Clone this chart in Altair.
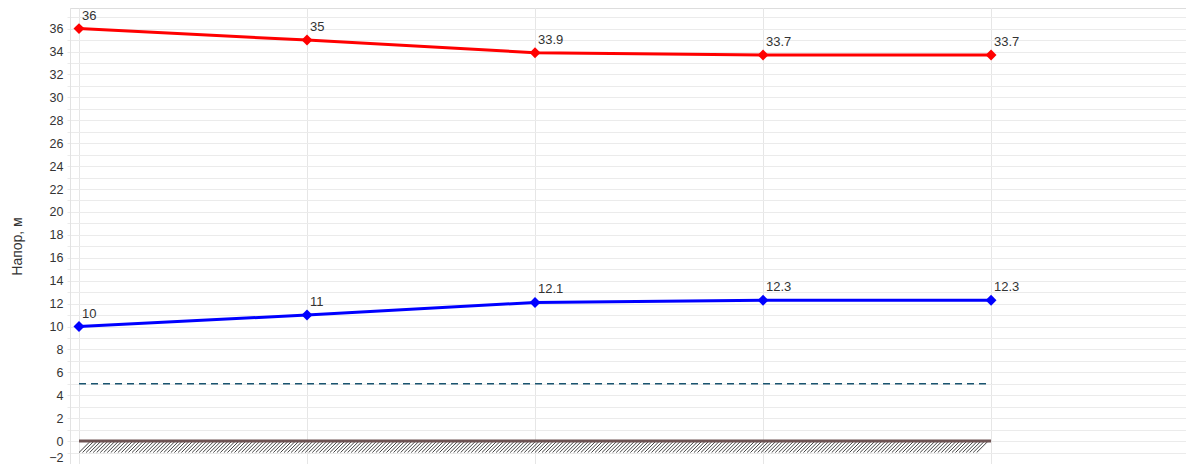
import altair as alt
import pandas as pd
import numpy as np

# ---- data ----
positions = [0, 1, 2, 3, 4]
head_top = [36, 35, 33.9, 33.7, 33.7]
head_bottom = [10, 11, 12.1, 12.3, 12.3]
dashed_level = 5
ground_level = 0
ground_depth = -1
y_ticks = list(range(-2, 38))

FONT = "Liberation Sans"

lines_df = pd.DataFrame({
    "x": positions * 2,
    "y": head_top + head_bottom,
    "s": ["top"] * len(positions) + ["bottom"] * len(positions),
    "lbl": [f"{v:g}" for v in head_top + head_bottom],
})

# hatch pattern below the ground line (decoration)
step = 0.0155
dx = 0.0503
starts = np.arange(positions[0], positions[-1] - dx + 1e-9, step)
hatch_df = pd.DataFrame({"x": starts, "x2": starts + dx})
hatch_df["y"] = ground_depth
hatch_df["y2"] = ground_level

xs = alt.Scale(domain=[-0.0395, 4.855], nice=False, zero=False)
ys = alt.Scale(domain=[-2, 37.8], nice=False, zero=False)

xaxis = alt.Axis(values=positions, labels=False, ticks=False, domain=False, title=None,
                 grid=True, gridColor="#e6e6e6", gridWidth=1)
yaxis = alt.Axis(values=y_ticks,
                 labelExpr="datum.value % 2 == 0 ? datum.label : ''",
                 grid=True, gridColor="#ebebeb", gridWidth=1,
                 tickSize=3, tickColor="#ebebeb", labelPadding=4,
                 domain=True, domainColor="#e2e2e2",
                 labelFont=FONT, labelFontSize=12.5, labelColor="#333333",
                 labelBaseline={"condition": {"test": "datum.value == -2", "value": "bottom"},
                                "value": "middle"},
                 title="Напор, м", titleFont=FONT, titleFontSize=14, titleFontWeight="normal",
                 titleColor="#333333", titleX=-53, titleY=238, titleAlign="center",
                 titleBaseline="middle", titleAngle=270)

base_x = alt.X("x:Q", scale=xs, axis=xaxis)
base_y = alt.Y("y:Q", scale=ys, axis=yaxis)

hatch = alt.Chart(hatch_df).mark_rule(color="#3f3f3f", strokeWidth=1).encode(
    x=alt.X("x:Q", scale=xs, axis=xaxis), x2="x2:Q",
    y=alt.Y("y:Q", scale=ys, axis=yaxis), y2="y2:Q")

ground_df = pd.DataFrame({"x": [positions[0]], "x2": [positions[-1]], "y": [ground_level]})
ground = alt.Chart(ground_df).mark_rule(color="#6e5454", strokeWidth=3).encode(
    x=alt.X("x:Q", scale=xs, axis=xaxis), x2="x2:Q", y=alt.Y("y:Q", scale=ys, axis=yaxis))

dash_df = pd.DataFrame({"x": [positions[0]], "x2": [positions[-1]], "y": [dashed_level]})
dashed = alt.Chart(dash_df).mark_rule(color="#1a5570", strokeWidth=1.5, strokeDash=[7, 5]).encode(
    x=alt.X("x:Q", scale=xs, axis=xaxis), x2="x2:Q", y=alt.Y("y:Q", scale=ys, axis=yaxis))

color = alt.Color("s:N", scale=alt.Scale(domain=["top", "bottom"], range=["#ff0000", "#0000ff"]),
                  legend=None)

lines = alt.Chart(lines_df).mark_line(strokeWidth=3).encode(
    x=base_x, y=base_y, color=color, detail="s:N")
points = alt.Chart(lines_df).mark_point(shape="diamond", filled=True, size=120, opacity=1).encode(
    x=base_x, y=base_y, color=color)
labels = alt.Chart(lines_df).mark_text(align="left", baseline="alphabetic", dx=3, dy=-9,
                                       font=FONT, fontSize=13, color="#333333").encode(
    x=base_x, y=base_y, text="lbl:N")

chart = alt.layer(hatch, ground, dashed, lines, points, labels).properties(
    width=1116, height=456,
    autosize=alt.AutoSizeParams(type="none"),
    padding={"left": 62, "top": 0, "right": 0, "bottom": 0},
).configure_view(stroke=None).configure(background="white")

chart.save("out.html", embed_options={"renderer": "svg", "actions": False})
